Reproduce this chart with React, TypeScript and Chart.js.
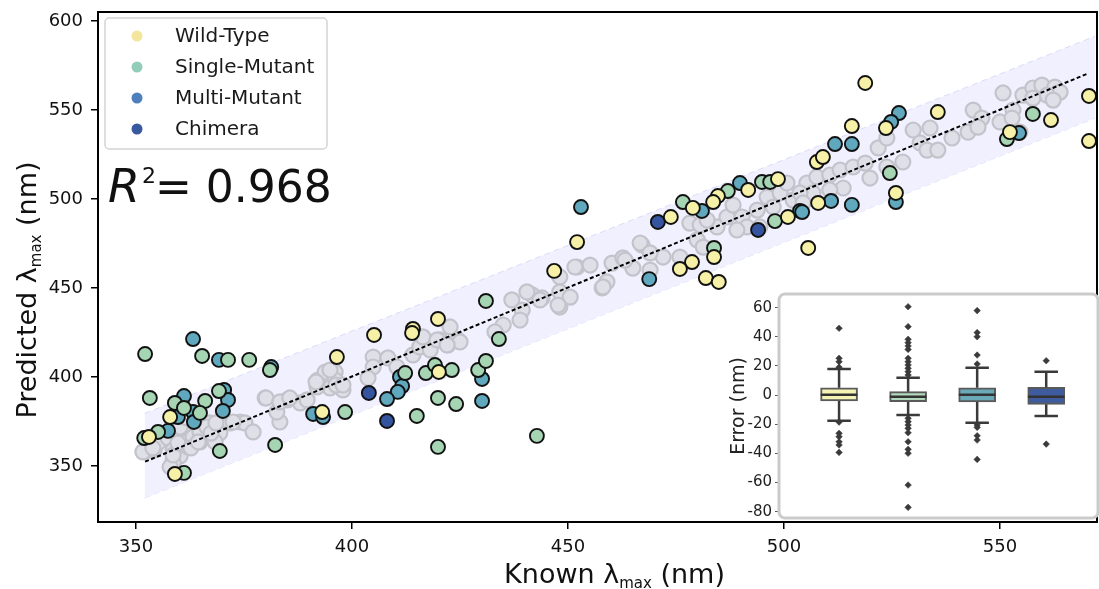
import React, { useEffect, useRef } from "react";
import { Chart, registerables } from "chart.js";

Chart.register(...registerables);

const FONT = "'DejaVu Sans', 'Noto Sans', sans-serif";

// ---------- categories ----------
const categories = ["Wild-Type", "Single-Mutant", "Multi-Mutant", "Chimera"];
const pointColors = ["#f6f1a6", "#a6d5b4", "#5fa8be", "#3454a0"];
const legendColors = ["#f3e69c", "#93ccb9", "#4f80bd", "#3858a0"];
const boxColors = ["#f6f4b4", "#b3d9bd", "#6aa9b8", "#3e5c9d"];

// ---------- main scatter: known vs predicted (nm) ----------
const wtKnown = [357.9, 353.0, 359.0, 393.1, 396.5, 405.1, 414.1, 413.9, 419.9, 420.1, 446.8, 452.1, 473.8, 478.9, 484.7, 483.6, 491.7, 498.6, 500.9, 507.9, 507.6, 509.0, 505.6, 483.8, 478.7, 475.9, 481.9, 484.9, 518.8, 515.7, 523.6, 535.6, 525.9, 552.3, 561.8, 570.6, 570.6];
const wtPred = [377.5, 366.3, 345.5, 380.3, 411.2, 423.6, 427.0, 424.7, 432.6, 402.8, 459.6, 475.8, 489.9, 495.0, 501.7, 498.3, 505.1, 511.2, 489.9, 497.8, 520.8, 523.6, 472.5, 467.4, 464.6, 460.7, 455.6, 453.4, 565.2, 541.0, 539.9, 548.9, 503.4, 537.6, 544.4, 557.9, 532.6];

const smKnown = [352.1, 365.3, 371.3, 376.2, 381.0, 353.2, 359.0, 361.1, 366.0, 369.2, 355.1, 364.8, 369.4, 382.2, 361.1, 398.4, 415.0, 417.1, 412.3, 419.2, 423.1, 419.9, 424.1, 429.2, 431.0, 431.0, 434.0, 419.9, 442.8, 476.6, 487.0, 494.9, 496.8, 497.9, 483.8, 524.5, 557.6, 551.6, 351.9];
const smPred = [412.9, 411.8, 409.6, 409.6, 403.9, 388.2, 385.4, 382.6, 386.5, 392.1, 369.1, 379.8, 358.4, 361.8, 346.1, 380.3, 378.1, 402.2, 402.2, 406.7, 403.9, 388.2, 384.8, 403.9, 409.0, 442.7, 421.3, 360.7, 366.9, 498.3, 504.5, 509.6, 509.6, 487.6, 472.5, 514.6, 547.8, 533.7, 365.7];

const mmKnown = [363.2, 369.2, 361.1, 359.7, 363.2, 363.4, 357.4, 370.4, 371.3, 370.1, 381.3, 391.0, 393.3, 411.1, 411.6, 410.6, 408.1, 430.1, 430.1, 453.0, 468.8, 481.0, 489.8, 503.7, 504.2, 511.8, 515.7, 526.6, 524.8, 525.9, 515.7, 510.9, 554.4];
const mmPred = [421.3, 409.6, 389.3, 377.5, 380.3, 374.7, 369.7, 392.7, 387.1, 380.9, 405.6, 379.2, 377.5, 400.0, 394.9, 391.6, 387.6, 398.9, 386.5, 495.5, 455.0, 493.3, 509.0, 493.3, 492.7, 530.9, 530.9, 548.3, 543.3, 498.3, 496.7, 498.9, 537.1];

const chKnown = [403.9, 408.1, 470.8, 494.0];
const chPred = [391.0, 375.3, 487.1, 482.6];

// grey reference (training) points
const refKnown = [
  352.3, 354.2, 355.3, 357.4, 358.6, 358.6, 360.2, 360.9, 362.0, 363.2, 364.8, 364.8, 367.1, 369.4, 368.3, 371.8, 374.1, 375.2, 377.1, 379.9,
  383.3, 382.6, 385.0, 388.0, 392.1, 393.8, 396.1, 396.1, 394.9, 397.9, 389.6, 391.9, 358.6, 357.9, 360.2, 361.8, 366.4,
  351.6, 353.9, 358.6, 359.7, 362.7, 364.4, 367.4, 368.5, 372.5, 380.1, 383.3, 385.6, 391.7, 394.9, 396.3,
  397.9, 404.9, 408.3, 404.9, 403.7, 410.4, 414.1, 415.7, 416.4, 420.4, 422.2, 424.5, 418.1, 435.0, 433.1, 437.0, 439.4, 441.7, 444.0, 438.9, 448.1, 448.1,
  440.5, 443.5, 448.1, 452.1, 455.1, 450.5, 447.7, 457.9, 459.0, 460.2, 462.7, 465.0, 467.1, 469.0, 472.0, 419.7, 422.7, 425.0, 422.0,
  466.7, 469.0, 463.2, 458.1, 451.6, 475.9, 478.2, 479.9, 481.3, 484.5, 486.8, 488.2, 490.3, 491.4, 493.8, 494.4, 496.1, 499.1, 500.7, 502.1, 505.3, 506.7, 497.5, 489.1, 480.6, 482.2,
  507.6, 510.6, 513.0, 516.0, 518.8, 513.7, 510.6, 519.9, 521.8, 523.8, 523.8, 527.5, 529.9, 533.8, 531.5, 533.1, 535.6, 538.9, 542.6, 543.8, 545.8, 544.9, 550.0, 550.7, 553.0, 552.8, 555.3, 557.6, 559.7, 562.7, 563.9, 560.9, 562.3, 557.6, 554.6, 503.7, 504.4
];
const refPred = [
  358.4, 359.0, 363.5, 365.7, 359.0, 353.4, 355.6, 371.3, 360.7, 366.3, 363.5, 369.1, 374.2, 368.5, 363.5, 374.2, 374.7, 374.2, 369.1, 388.2,
  374.7, 380.3, 387.1, 385.4, 398.3, 402.8, 402.8, 398.3, 393.8, 392.7, 387.1, 394.4, 351.7, 349.4, 371.9, 377.0, 371.9,
  357.9, 360.1, 356.2, 362.9, 360.1, 363.5, 368.5, 374.2, 374.7, 388.2, 386.0, 388.2, 397.2, 403.9, 395.5,
  395.5, 411.2, 410.7, 405.6, 399.4, 405.6, 412.4, 416.9, 422.5, 420.8, 418.0, 420.8, 415.2, 429.2, 425.3, 443.3, 437.6, 446.1, 444.4, 432.0, 447.8, 439.3,
  447.8, 443.3, 456.2, 461.8, 462.9, 444.9, 440.4, 450.0, 453.4, 464.0, 466.9, 461.2, 474.2, 460.1, 467.4, 420.8, 428.1, 419.7, 418.0,
  475.3, 469.7, 465.7, 450.6, 461.8, 467.4, 486.5, 477.0, 473.0, 484.3, 489.9, 496.6, 489.9, 484.3, 493.8, 484.3, 501.1, 503.4, 509.0, 499.4, 509.0, 503.4, 495.5, 482.6, 485.4, 488.2,
  512.4, 513.5, 516.3, 518.0, 520.2, 506.2, 505.1, 511.8, 528.7, 534.3, 518.0, 520.8, 538.8, 539.9, 531.5, 527.5, 527.5, 534.3, 537.6, 550.0, 545.5, 540.4, 543.3, 559.6, 550.0, 545.5, 558.4, 562.4, 564.0, 562.9, 560.1, 558.4, 555.6, 556.7, 537.6, 503.4, 497.8
];

// regression line and interval band
const fitKnown = [352.1, 570.4];
const fitPred = [352.4, 570.6];
const bandKnown = [352.0, 572.0];
const bandUpper = [379.5, 591.5];
const bandLower = [332.0, 545.5];

const xTicks = [350, 400, 450, 500, 550];
const yTicks = [350, 400, 450, 500, 550, 600];
const r2Value = "0.968";

// ---------- inset box plot: error (nm) ----------
const boxQ1 = [-4.0, -4.5, -4.7, -6.3];
const boxQ3 = [5.1, 2.4, 5.1, 5.4];
const boxMed = [0.3, -1.1, 0.3, -1.1];
const whiskLo = [-17.5, -13.6, -18.9, -14.3];
const whiskHi = [17.9, 12.0, 18.8, 16.1];
const wtOut = [45.9, 25.3, 22.9, 19.2, -18.5, -26.2, -28.5, -32.0, -34.2, -39.3];
const smOut = [60.7, 47.0, 38.3, 36.0, 33.7, 31.4, 25.3, 22.9, 20.7, 18.4, 16.1, 13.8, -15.9, -18.2, -20.5, -22.8, -25.8, -32.0, -37.2, -39.9, -61.7, -77.0];
const mmOut = [58.0, 42.9, 40.1, 27.5, 21.4, -20.5, -22.1, -27.9, -30.8, -44.1];
const chOut = [23.6, -33.6];
const errTicks = [60, 40, 20, 0, -20, -40, -60, -80];

const toPts = (xs: number[], ys: number[]) => xs.map((x, i) => ({ x, y: ys[i] }));

const zeroPad = (s: any) => {
  s.paddingTop = 0;
  s.paddingBottom = 0;
  s.paddingLeft = 0;
  s.paddingRight = 0;
};

function MainChart() {
  const ref = useRef<HTMLCanvasElement | null>(null);
  useEffect(() => {
    const groups = [
      { k: wtKnown, p: wtPred },
      { k: smKnown, p: smPred },
      { k: mmKnown, p: mmPred },
      { k: chKnown, p: chPred },
    ];
    const colored = groups.map((g, i) => ({
      type: "scatter" as const,
      label: categories[i],
      data: toPts(g.k, g.p),
      backgroundColor: pointColors[i],
      borderColor: "#111111",
      borderWidth: 1.9,
      pointRadius: 7,
      order: 0,
    }));

    const overlay = {
      id: "overlay",
      afterDraw(chart: any) {
        const ctx = chart.ctx;
        const a = chart.chartArea;
        ctx.save();
        // frame
        ctx.strokeStyle = "#000";
        ctx.lineWidth = 2;
        ctx.strokeRect(a.left, a.top, a.right - a.left, a.bottom - a.top);

        ctx.fillStyle = "#111";
        const big = `27px ${FONT}`;
        const small = `15px ${FONT}`;
        const parts = [
          { t: "Known ", f: big, dy: 0 },
          { t: "λ", f: big, dy: 0 },
          { t: "max", f: small, dy: 5 },
          { t: " (nm)", f: big, dy: 0 },
        ];
        const yparts = [
          { t: "Predicted ", f: big, dy: 0 },
          { t: "λ", f: big, dy: 0 },
          { t: "max", f: small, dy: 5 },
          { t: " (nm)", f: big, dy: 0 },
        ];
        const measure = (ps: any[]) =>
          ps.reduce((s, p) => {
            ctx.font = p.f;
            return s + ctx.measureText(p.t).width;
          }, 0);
        const drawParts = (ps: any[], x0: number, y0: number) => {
          let x = x0;
          ctx.textBaseline = "alphabetic";
          ctx.textAlign = "left";
          for (const p of ps) {
            ctx.font = p.f;
            ctx.fillText(p.t, x, y0 + p.dy);
            x += ctx.measureText(p.t).width;
          }
        };
        const xc = (a.left + a.right) / 2 + 17;
        drawParts(parts, xc - measure(parts) / 2, 583);

        ctx.save();
        ctx.translate(36, (a.top + a.bottom) / 2 + 23);
        ctx.rotate(-Math.PI / 2);
        drawParts(yparts, -measure(yparts) / 2, 0);
        ctx.restore();

        // R^2 annotation
        ctx.textBaseline = "alphabetic";
        ctx.font = `italic 46px ${FONT}`;
        ctx.fillText("R", 108, 202);
        const rw = ctx.measureText("R").width;
        ctx.font = `22px ${FONT}`;
        ctx.fillText("2", 108 + rw + 2, 183);
        ctx.font = `44px ${FONT}`;
        ctx.fillText("= " + r2Value, 155, 202);

        // legend
        const lx = 105, ly = 18, lw = 222, lh = 131;
        ctx.beginPath();
        ctx.roundRect(lx, ly, lw, lh, 4);
        ctx.fillStyle = "rgba(255,255,255,0.85)";
        ctx.fill();
        ctx.strokeStyle = "#d4d4d4";
        ctx.lineWidth = 1.5;
        ctx.stroke();
        ctx.font = `20px ${FONT}`;
        ctx.textBaseline = "middle";
        categories.forEach((c, i) => {
          const cy = 36 + i * 31;
          ctx.beginPath();
          ctx.arc(137, cy, 5.5, 0, Math.PI * 2);
          ctx.fillStyle = legendColors[i];
          ctx.fill();
          ctx.fillStyle = "#1a1a1a";
          ctx.fillText(c, 175, cy + 1);
        });
        ctx.restore();
      },
    };

    const chart = new Chart(ref.current as HTMLCanvasElement, {
      type: "scatter",
      data: {
        datasets: [
          ...colored,
          {
            type: "scatter" as const,
            label: "fit",
            data: toPts(fitKnown, fitPred),
            showLine: true,
            borderColor: "#000",
            borderWidth: 2,
            borderDash: [4, 2.5],
            pointRadius: 0,
            order: 1,
          },
          {
            type: "scatter" as const,
            label: "reference",
            data: toPts(refKnown, refPred),
            backgroundColor: "#dfdfe8",
            borderColor: "#c3c3cc",
            borderWidth: 2.2,
            pointRadius: 7.5,
            order: 2,
          },
          {
            type: "scatter" as const,
            label: "upper",
            data: toPts(bandKnown, bandUpper),
            showLine: true,
            fill: "+1",
            backgroundColor: "rgb(240,240,254)",
            borderColor: "rgba(215,215,250,0.9)",
            borderDash: [6, 4],
            borderWidth: 1,
            pointRadius: 0,
            order: 3,
          },
          {
            type: "scatter" as const,
            label: "lower",
            data: toPts(bandKnown, bandLower),
            showLine: true,
            fill: false,
            backgroundColor: "rgb(240,240,254)",
            borderColor: "rgba(215,215,250,0.9)",
            borderDash: [6, 4],
            borderWidth: 1,
            pointRadius: 0,
            order: 4,
          },
        ] as any,
      },
      options: {
        animation: false,
        responsive: false,
        devicePixelRatio: 1,
        layout: { autoPadding: false, padding: { top: 12, right: 2, left: 0, bottom: 0 } },
        plugins: { legend: { display: false }, tooltip: { enabled: false } },
        scales: {
          x: {
            type: "linear",
            min: 341.2,
            max: 572.45,
            afterBuildTicks: (s: any) => {
              s.ticks = xTicks.map((v) => ({ value: v }));
            },
            afterFit: (s: any) => {
              s.height = 67;
              zeroPad(s);
            },
            ticks: { font: { family: FONT, size: 18 }, color: "#111", padding: 8, maxRotation: 0 },
            grid: { display: true, drawOnChartArea: false, drawTicks: true, tickLength: 7, color: "#000", lineWidth: 1.5 },
            border: { display: true, color: "#000", width: 2 },
          },
          y: {
            type: "linear",
            min: 318.5,
            max: 605.1,
            afterBuildTicks: (s: any) => {
              s.ticks = yTicks.map((v) => ({ value: v }));
            },
            afterFit: (s: any) => {
              s.width = 98;
              zeroPad(s);
            },
            ticks: { font: { family: FONT, size: 18 }, color: "#111", padding: 8 },
            grid: { display: true, drawOnChartArea: false, drawTicks: true, tickLength: 7, color: "#000", lineWidth: 1.5 },
            border: { display: true, color: "#000", width: 2 },
          },
        },
      } as any,
      plugins: [overlay],
    });
    return () => chart.destroy();
  }, []);
  return <canvas ref={ref} width={1099} height={589} style={{ position: "absolute", left: 0, top: 0 }} />;
}

function InsetChart() {
  const ref = useRef<HTMLCanvasElement | null>(null);
  useEffect(() => {
    const HALF = 0.265;
    const CAP = 0.17;
    const whiskers: any[] = [];
    const medians: any[] = [];
    boxQ1.forEach((q1, i) => {
      whiskers.push(
        { x: i, y: boxQ3[i] }, { x: i, y: whiskHi[i] }, { x: i, y: null },
        { x: i, y: q1 }, { x: i, y: whiskLo[i] }, { x: i, y: null },
        { x: i - CAP, y: whiskHi[i] }, { x: i + CAP, y: whiskHi[i] }, { x: i, y: null },
        { x: i - CAP, y: whiskLo[i] }, { x: i + CAP, y: whiskLo[i] }, { x: i, y: null }
      );
      medians.push({ x: i - HALF, y: boxMed[i] }, { x: i + HALF, y: boxMed[i] }, { x: i, y: null });
    });
    const outliers: any[] = [];
    [wtOut, smOut, mmOut, chOut].forEach((arr, i) => arr.forEach((v) => outliers.push({ x: i, y: v })));

    const insetPlugin = {
      id: "insetFrame",
      beforeDraw(chart: any) {
        const a = chart.chartArea;
        const ctx = chart.ctx;
        ctx.save();
        ctx.beginPath();
        ctx.roundRect(a.left, a.top, a.right - a.left, a.bottom - a.top, 6);
        ctx.fillStyle = "#fff";
        ctx.fill();
        ctx.restore();
      },
      afterDraw(chart: any) {
        const a = chart.chartArea;
        const ctx = chart.ctx;
        ctx.save();
        ctx.beginPath();
        ctx.roundRect(a.left, a.top, a.right - a.left, a.bottom - a.top, 6);
        ctx.strokeStyle = "#cbcbcb";
        ctx.lineWidth = 3;
        ctx.stroke();
        ctx.translate(44, (a.top + a.bottom) / 2);
        ctx.rotate(-Math.PI / 2);
        ctx.font = `19px ${FONT}`;
        ctx.fillStyle = "#222";
        ctx.textAlign = "center";
        ctx.textBaseline = "alphabetic";
        ctx.fillText("Error (nm)", 0, 0);
        ctx.restore();
      },
    };

    const chart = new Chart(ref.current as HTMLCanvasElement, {
      type: "scatter",
      data: {
        datasets: [
          {
            type: "scatter",
            label: "median",
            data: medians,
            showLine: true,
            borderColor: "#333",
            borderWidth: 2.5,
            pointRadius: 0,
            order: 0,
          },
          {
            type: "scatter",
            label: "outliers",
            data: outliers,
            pointStyle: "rectRot",
            pointRadius: 3.3,
            backgroundColor: "#3a3a3a",
            borderColor: "#3a3a3a",
            borderWidth: 0.5,
            order: 1,
          },
          {
            type: "scatter",
            label: "whiskers",
            data: whiskers,
            showLine: true,
            spanGaps: false,
            borderColor: "#3a3a3a",
            borderWidth: 2.5,
            pointRadius: 0,
            order: 2,
          },
          {
            type: "bar",
            label: "box",
            data: boxQ1.map((q1, i) => ({ x: i, y: [q1, boxQ3[i]] })),
            backgroundColor: boxColors,
            borderColor: "#5a5a5a",
            borderWidth: 2,
            borderSkipped: false,
            barThickness: 37,
            order: 3,
          },
        ] as any,
      },
      options: {
        animation: false,
        responsive: false,
        devicePixelRatio: 1,
        layout: { autoPadding: false, padding: { top: 9, right: 1, left: 0, bottom: 12 } },
        plugins: { legend: { display: false }, tooltip: { enabled: false } },
        scales: {
          x: { type: "linear", min: -0.87, max: 3.75, display: false, offset: false },
          y: {
            type: "linear",
            min: -84.3,
            max: 69.4,
            afterBuildTicks: (s: any) => {
              s.ticks = errTicks.map((v) => ({ value: v }));
            },
            afterFit: (s: any) => {
              s.width = 79;
              zeroPad(s);
            },
            ticks: { font: { family: FONT, size: 15 }, color: "#222", padding: 3 },
            grid: { display: true, drawOnChartArea: false, drawTicks: true, tickLength: 4, color: "#555", lineWidth: 1 },
            border: { display: false },
          },
        },
      } as any,
      plugins: [insetPlugin],
    });
    return () => chart.destroy();
  }, []);
  return <canvas ref={ref} width={399} height={245} style={{ position: "absolute", left: 700, top: 285 }} />;
}

export default function App() {
  useEffect(() => {
    document.body.style.margin = "0";
  }, []);
  return (
    <div style={{ position: "relative", width: 1099, height: 589, background: "#fff", overflow: "hidden" }}>
      <MainChart />
      <InsetChart />
    </div>
  );
}
